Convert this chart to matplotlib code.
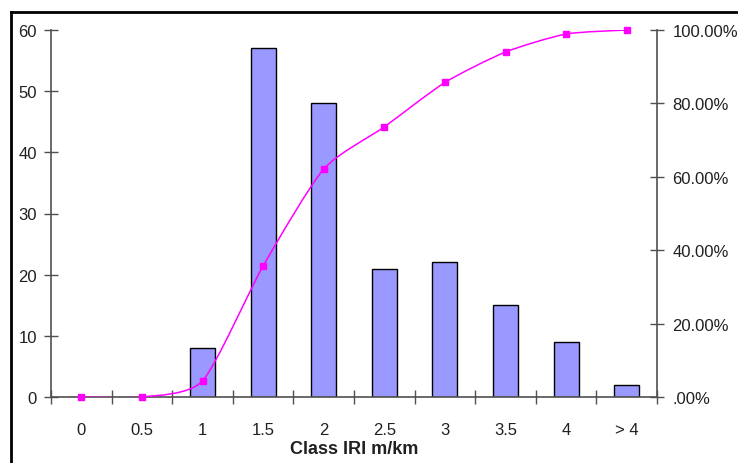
import matplotlib
matplotlib.use("Agg")
import matplotlib.pyplot as plt
from matplotlib.path import Path
from matplotlib.patches import PathPatch
from matplotlib.lines import Line2D
from matplotlib.ticker import FixedLocator, FuncFormatter

# data
classes = ["0", "0.5", "1", "1.5", "2", "2.5", "3", "3.5", "4", "> 4"]
counts = [0, 0, 8, 57, 48, 21, 22, 15, 9, 2]
cum_pct = [0.0, 0.0, 4.4, 35.7, 62.1, 73.6, 85.7, 94.0, 98.9, 100.0]

BAR, EDGE, LINE, AXC, TXT = "#9999ff", "#000000", "#ff00ff", "#505050", "#202020"
plt.rcParams.update({"font.family": ["Liberation Sans", "DejaVu Sans"], "font.size": 12})

fig = plt.figure(figsize=(7.38, 4.64), dpi=100)
fig.patch.set_facecolor("white")
ax = fig.add_axes([51 / 738, 1 - 398 / 464, (657 - 51) / 738, (398 - 31) / 464])
ax.set_facecolor("none")

x = list(range(len(classes)))
ax.bar(x, counts, 0.41, color=BAR, edgecolor=EDGE, linewidth=1, zorder=2)
ax.set_xlim(-0.5, len(classes) - 0.5)
ax.set_ylim(0, 60)
ax.set_yticks(range(0, 61, 10))

# boundaries carry the tick marks, labels sit at the centres
ax.xaxis.set_major_locator(FixedLocator([i - 0.5 for i in range(len(classes) + 1)]))
ax.xaxis.set_major_formatter(FuncFormatter(lambda v, p: ""))
ax.xaxis.set_minor_locator(FixedLocator(x))
ax.set_xticklabels(classes, minor=True)
ax.tick_params(axis="x", which="minor", length=0, pad=18, labelsize=12, labelcolor=TXT)
ax.tick_params(axis="x", which="major", direction="inout", length=10, width=1, color=AXC)
ax.tick_params(axis="y", direction="inout", length=10, width=1, color=AXC,
               labelsize=12, labelcolor=TXT, pad=5)
for s in ["top", "right"]:
    ax.spines[s].set_visible(False)
for s in ["left", "bottom"]:
    ax.spines[s].set_color(AXC)
    ax.spines[s].set_linewidth(1.2)
ax.set_xlabel("Class IRI m/km", fontsize=13, fontweight="bold", color=TXT, labelpad=2)

ax2 = ax.twinx()
ax2.set_ylim(0, 100)
ax2.set_yticks(range(0, 101, 20))
ax2.yaxis.set_major_formatter(FuncFormatter(lambda v, p: ".00%" if v == 0 else f"{v:.2f}%"))
ax2.tick_params(axis="y", direction="inout", length=10, width=1, color=AXC,
                labelsize=12, labelcolor=TXT, pad=6)
for s in ["top", "left", "bottom"]:
    ax2.spines[s].set_visible(False)
ax2.spines["right"].set_color(AXC)
ax2.spines["right"].set_linewidth(1.2)

# smoothed cumulative line (Bezier path through the points, Excel style)
k = 1 / 9
verts, codes = [(x[0], cum_pct[0])], [Path.MOVETO]
n = len(x)
for i in range(n - 1):
    p0 = (x[max(i - 1, 0)], cum_pct[max(i - 1, 0)])
    p1 = (x[i], cum_pct[i])
    p2 = (x[i + 1], cum_pct[i + 1])
    p3 = (x[min(i + 2, n - 1)], cum_pct[min(i + 2, n - 1)])
    c1 = (p1[0] + (p2[0] - p0[0]) * k, p1[1] + (p2[1] - p0[1]) * k)
    c2 = (p2[0] - (p3[0] - p1[0]) * k, p2[1] - (p3[1] - p1[1]) * k)
    verts += [c1, c2, p2]
    codes += [Path.CURVE4] * 3
ax2.add_patch(PathPatch(Path(verts, codes), facecolor="none", edgecolor=LINE, lw=1.1, zorder=3))
ax2.plot(x, cum_pct, ls="none", marker="s", ms=5, color=LINE, zorder=4, clip_on=False)

# outer chart frame (left and top edges visible)
fx, fy = 10.5 / 738, 1 - 12.5 / 464
fig.add_artist(Line2D([fx, fx], [0, fy], transform=fig.transFigure, color="black", lw=2))
fig.add_artist(Line2D([fx, 1], [fy, fy], transform=fig.transFigure, color="black", lw=2))

fig.savefig("out.png", dpi=100)
